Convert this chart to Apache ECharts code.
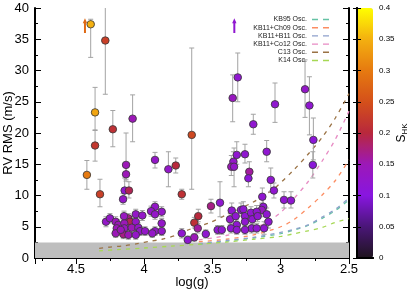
<!DOCTYPE html>
<html><head><meta charset="utf-8">
<script src="https://cdn.jsdelivr.net/npm/echarts@6/dist/echarts.min.js"></script>
<style>html,body{margin:0;padding:0;background:#fff}#c{width:415px;height:291px}</style>
</head><body><div id="c"></div>
<script>
// ---- star data: log(g), RV RMS (m/s), error-bar low/high, S_HK ----
const logg = [4.392,4.285,4.36,4.36,4.42,4.23,4.085,4.133,4.133,4.143,4.112,4.324,4.155,
  3.652,3.921,3.823,3.769,3.725,3.352,3.315,3.201,3.103,3.322,3.262,3.347,3.362,3.342,3.23,3.237,3.073,3.042,2.79,2.822,2.761,2.765,
  3.135,2.976,2.925,3.128,3.139,3.103,3.09,3.122,3.445,3.511,3.604,3.633,3.608,3.725,3.681,3.633,3.549,3.462,3.432,
  3.359,3.291,3.274,3.262,3.218,3.176,3.371,3.330,3.322,3.364,3.262,3.208,3.169,3.213,3.176,3.322,3.262,3.05,
  4.28,4.251,4.209,4.19,4.116,4.104,4.146,4.062,4.201,4.146,4.092,4.043,4.031,3.994,4.209,4.153,4.116,4.062,
  3.921,3.941,3.872,3.872,4.062,4.014,3.921,3.95,3.872,3.921,4.148,4.172];
const rms = [37.4,34.8,23.3,18.0,13.3,20.6,22.3,14.9,13.4,10.8,10.8,10.2,9.4,
  19.7,15.7,14.2,14.8,10.2,25.6,28.9,21.4,17.0,16.5,16.6,15.4,14.6,14.6,13.8,12.75,12.5,24.6,24.4,27.0,18.9,14.9,
  9.8,9.3,9.2,8.2,7.7,7.0,5.8,4.75,8.85,8.3,6.7,5.65,4.75,3.95,2.9,3.3,3.85,4.5,4.5,
  7.6,7.7,7.8,6.7,7.25,7.4,6.2,6.7,5.3,4.75,5.8,6.2,6.7,4.75,4.75,4.5,4.5,10.8,
  5.8,6.35,5.8,5.3,6.35,5.8,5.55,5.8,4.75,4.75,4.85,4.85,4.3,4.3,3.95,3.8,3.7,3.7,
  4.3,3.95,4.3,5.55,7.0,6.8,8.2,7.5,7.4,7.0,6.7,4.5];
const rmsLo = [32.1,26.2,20.4,15.5,11.0,17.8,18.6,12.6,12.3,9.8,9.6,8.2,8.6,
  11.0,14.4,11.4,13.6,9.4,21.8,25.0,19.8,15.4,15.0,15.2,14.0,13.2,11.4,12.8,11.4,10.6,21.7,19.7,22.5,15.7,12.8,
  8.6,8.0,8.0,7.2,6.6,6.0,4.8,3.8,6.6,7.2,5.8,4.8,4.0,3.2,2.3,2.7,3.2,3.8,3.8,
  6.6,6.7,6.8,5.8,6.3,6.4,5.3,5.8,4.5,4.0,5.0,5.4,5.8,4.0,4.0,3.8,3.8,9.6,
  5.0,5.6,5.0,4.5,5.6,5.0,4.8,5.0,4.0,4.0,4.1,4.1,3.6,3.6,3.3,3.1,3.0,3.0,
  3.6,3.3,3.6,4.8,6.2,6.0,7.4,6.7,6.6,6.2,5.9,3.8];
const rmsHi = [38.2,44.0,27.3,20.5,15.6,23.6,26.1,20.0,14.6,12.8,12.2,12.6,10.3,
  33.6,16.9,17.0,16.0,11.0,29.3,32.8,23.0,18.8,18.6,18.2,17.0,16.4,17.6,15.4,14.0,14.4,28.0,29.0,31.7,22.4,17.0,
  11.2,10.6,10.6,9.4,8.8,8.0,6.8,5.8,12.2,9.4,7.8,6.5,5.5,4.7,3.5,3.9,4.5,5.2,5.2,
  8.8,8.8,9.0,7.6,8.2,8.4,7.2,7.6,6.1,5.5,6.6,7.0,7.6,5.5,5.5,5.2,5.2,12.0,
  6.6,7.1,6.6,6.1,7.1,6.6,6.3,6.6,5.5,5.5,5.6,5.6,5.0,5.0,4.6,4.5,4.4,4.4,
  5.0,4.6,5.0,6.3,7.8,7.6,9.0,8.3,8.2,7.8,7.5,5.2];
const shk = [0.35,0.23,0.34,0.22,0.30,0.21,0.15,0.15,0.15,0.12,0.19,0.23,0.13,
  0.24,0.13,0.13,0.20,0.21,0.14,0.12,0.12,0.12,0.12,0.12,0.13,0.15,0.13,0.16,0.11,0.12,0.12,0.12,0.13,0.11,0.11,
  0.12,0.12,0.12,0.12,0.14,0.12,0.12,0.12,0.12,0.17,0.20,0.21,0.16,0.12,0.12,0.15,0.12,0.12,0.12,
  0.12,0.12,0.12,0.12,0.12,0.12,0.13,0.12,0.12,0.12,0.12,0.12,0.12,0.12,0.12,0.12,0.12,0.12,
  0.13,0.13,0.15,0.15,0.17,0.19,0.15,0.13,0.15,0.14,0.15,0.13,0.13,0.13,0.15,0.17,0.15,0.13,
  0.13,0.13,0.13,0.13,0.13,0.13,0.13,0.13,0.13,0.13,0.14,0.15];
const loggErr = 0.025;

// stars beyond the plotted range (drawn as upward arrows)
const arrowLogg = [4.434, 3.34];
const arrowFrom = [36.0, 36.0];
const arrowTo = [38.2, 38.2];
const arrowShk = [0.28, 0.12];

// ---- oscillation model curves ----
const kb95Logg = [3.6,3.4,3.2,3.0,2.9,2.8,2.7,2.6,2.5];
const kb95Rms  = [2.2,2.7,3.2,3.9,4.5,5.2,6.3,7.6,9.3];
const ch09Logg = [3.6,3.4,3.2,3.0,2.9,2.8,2.7,2.6,2.5];
const ch09Rms  = [2.6,3.0,3.7,5.0,6.2,8.0,10.0,12.4,15.7];
const b11Logg  = [3.6,3.4,3.2,3.0,2.9,2.8,2.7,2.6,2.5];
const b11Rms   = [2.3,2.8,3.3,4.1,4.6,5.3,6.5,7.8,9.6];
const co12Logg = [3.6,3.5,3.4,3.3,3.2,3.1,3.0,2.9,2.8,2.7,2.6,2.5];
const co12Rms  = [2.9,3.2,3.6,4.1,4.8,5.7,7.3,9.6,12.2,15.4,19.0,23.5];
const c13Logg  = [4.33,4.25,4.15,4.05,3.95,3.87,3.76,3.665,3.52,3.4,3.21,3.05,2.9,2.8,2.7,2.6,2.5];
const c13Rms   = [1.55,1.75,1.95,2.3,2.7,3.0,3.7,4.6,5.65,6.9,8.85,11.1,14.2,16.6,19.2,22.4,26.3];
const k14Logg  = [4.33,4.2,4.0,3.8,3.6,3.4,3.2,3.0,2.9,2.8,2.7,2.6,2.5];
const k14Rms   = [1.15,1.33,1.6,1.9,2.2,2.55,3.0,3.45,3.9,4.35,4.85,5.7,6.3];

const modelNames = ['KB95 Osc.','KB11+Ch09 Osc.','KB11+B11 Osc.','KB11+Co12 Osc.','C13 Osc.','K14 Osc.'];
const modelColors = ['#66c2a5','#fc8d62','#8da0cb','#e78ac3','#9a7244','#a6d854'];
const modelX = [kb95Logg,ch09Logg,b11Logg,co12Logg,c13Logg,k14Logg];
const modelY = [kb95Rms,ch09Rms,b11Rms,co12Rms,c13Rms,k14Rms];

// S_HK colour bar
const shkTicks = {min:0, max:0.4, step:0.05};
const palette = ['#1e141e','#4a1678','#8816e0','#9c18b8','#b8283c','#d4501a','#e67a10','#f4b010','#ffff00'];

const FONT = 'Liberation Sans, Arial, Helvetica, sans-serif';
const pts = logg.map((g,i)=>[g, rms[i], rmsLo[i], rmsHi[i], shk[i]]);
const arrows = arrowLogg.map((g,i)=>[g, arrowFrom[i], arrowFrom[i], arrowTo[i], arrowShk[i]]);

function errItem(params, api){
  const g=api.value(0), v=api.value(1), lo=api.value(2), hi=api.value(3);
  const a=api.coord([g,lo]), b=api.coord([g,hi]);
  const l=api.coord([g+loggErr,v]), r=api.coord([g-loggErr,v]);
  const cw=2.5, ch=1.6, st={stroke:'#a3a3a3', lineWidth:1};
  return {type:'group', children:[
    {type:'line', shape:{x1:a[0],y1:a[1],x2:b[0],y2:b[1]}, style:st},
    {type:'line', shape:{x1:a[0]-cw,y1:a[1],x2:a[0]+cw,y2:a[1]}, style:st},
    {type:'line', shape:{x1:b[0]-cw,y1:b[1],x2:b[0]+cw,y2:b[1]}, style:st},
    {type:'line', shape:{x1:l[0],y1:l[1],x2:r[0],y2:r[1]}, style:st},
    {type:'line', shape:{x1:l[0],y1:l[1]-ch,x2:l[0],y2:l[1]+ch}, style:st},
    {type:'line', shape:{x1:r[0],y1:r[1]-ch,x2:r[0],y2:r[1]+ch}, style:st}
  ]};
}
function arrowItem(params, api){
  const g=api.value(0);
  const a=api.coord([g,api.value(2)]), b=api.coord([g,api.value(3)]);
  const c=api.visual('color');
  return {type:'group', children:[
    {type:'line', shape:{x1:a[0],y1:a[1],x2:b[0],y2:b[1]+2}, style:{stroke:c,lineWidth:2}},
    {type:'polygon', shape:{points:[[b[0],b[1]-1],[b[0]-2.2,b[1]+4],[b[0]+2.2,b[1]+4]]}, style:{fill:c}}
  ]};
}

const series = [];
modelNames.forEach((n,i)=>{
  const s = {
    name:n, type:'line', xAxisIndex:0, yAxisIndex:0, smooth:0.3, symbol:'none', showSymbol:false,
    data: modelX[i].map((x,j)=>[x, modelY[i][j]]),
    lineStyle:{color:modelColors[i], width:1.3, type:[4,5]},
    itemStyle:{color:modelColors[i]}, silent:true, clip:true, z:2
  };
  if(i===0){
    s.markArea = {silent:true, itemStyle:{color:'#bebebe', opacity:1}, data:[[{yAxis:0},{yAxis:2.5}]]};
  }
  series.push(s);
});
series.push({type:'custom', xAxisIndex:0, yAxisIndex:0, renderItem:errItem, data:pts, clip:true, silent:true, z:3});
series.push({type:'custom', xAxisIndex:0, yAxisIndex:0, renderItem:arrowItem, data:arrows, clip:true, silent:true, z:4});
series.push({type:'scatter', xAxisIndex:0, yAxisIndex:0, data:pts, symbolSize:7.5, z:5,
  itemStyle:{borderColor:'#383838', borderWidth:0.8, opacity:1}, silent:true});

const tickCommon = {show:true, inside:true, length:6, lineStyle:{color:'#000', width:1}};
const minorCommon = {show:true, splitNumber:2, length:3, lineStyle:{color:'#000', width:1}};
const lineCommon = {show:true, lineStyle:{color:'#000', width:2}};

const option = {
  animation:false,
  backgroundColor:'#fff',
  textStyle:{fontFamily:FONT},
  grid:[
    {left:35, top:8, width:314, height:250, containLabel:false, outerBoundsMode:'none'},
    {left:357, top:8, width:16, height:250, containLabel:false, outerBoundsMode:'none'}
  ],
  legend:{
    data:modelNames, orient:'vertical', right:81, top:11, align:'right',
    itemWidth:17, itemHeight:1.4, itemGap:1.2, symbolKeepAspect:false,
    icon:'path://M0,0H6V1H0Z M11,0H17V1H11Z',
    textStyle:{fontSize:7, color:'#222', fontFamily:FONT, padding:[0,0,0,0]},
    selectedMode:false
  },
  visualMap:{
    type:'continuous', min:shkTicks.min, max:shkTicks.max, dimension:4, seriesIndex:[7,8],
    calculable:false, show:true, left:357, top:8, itemWidth:16, itemHeight:250, padding:0,
    text:null, showLabel:false, inRange:{color:palette}, hoverLink:false
  },
  xAxis:[
    {gridIndex:0, type:'value', inverse:true, min:2.5, max:4.8, interval:0.5, position:'bottom',
     axisLine:lineCommon, axisTick:tickCommon, minorTick:minorCommon, splitLine:{show:false},
     axisLabel:{fontSize:13, color:'#000', margin:5, fontFamily:FONT, showMaxLabel:false},
     name:'log(g)', nameLocation:'middle', nameGap:18, nameMoveOverlap:false,
     nameTextStyle:{fontSize:13, color:'#000', fontFamily:FONT}},
    {gridIndex:0, type:'value', inverse:true, min:2.5, max:4.8, interval:0.5, position:'top',
     axisLine:lineCommon, axisTick:tickCommon, minorTick:minorCommon, splitLine:{show:false}, axisLabel:{show:false}},
    {gridIndex:1, type:'value', min:0, max:1, position:'bottom', axisLine:{show:true, lineStyle:{color:'#000', width:2}},
     axisTick:{show:false}, axisLabel:{show:false}, splitLine:{show:false}, z:10},
    {gridIndex:1, type:'value', min:0, max:1, position:'top', axisLine:{show:true, lineStyle:{color:'#000', width:2}},
     axisTick:{show:false}, axisLabel:{show:false}, splitLine:{show:false}, z:10}
  ],
  yAxis:[
    {gridIndex:0, type:'value', min:0, max:40, interval:5, position:'left',
     axisLine:lineCommon, axisTick:tickCommon, minorTick:minorCommon, splitLine:{show:false},
     axisLabel:{fontSize:13, color:'#000', margin:6, fontFamily:FONT},
     name:'RV RMS (m/s)', nameLocation:'middle', nameGap:20, nameRotate:90, nameMoveOverlap:false,
     nameTextStyle:{fontSize:13, color:'#000', fontFamily:FONT}},
    {gridIndex:0, type:'value', min:0, max:40, interval:5, position:'right',
     axisLine:lineCommon, axisTick:tickCommon, minorTick:minorCommon, splitLine:{show:false}, axisLabel:{show:false}},
    {gridIndex:1, type:'value', min:shkTicks.min, max:shkTicks.max, interval:shkTicks.step, position:'right', z:10,
     axisLine:{show:true, lineStyle:{color:'#000', width:2}},
     axisTick:{show:true, inside:true, length:4, lineStyle:{color:'#000'}}, splitLine:{show:false},
     axisLabel:{fontSize:8, color:'#000', margin:6, fontFamily:FONT},
     name:'S{sub|HK}', nameLocation:'middle', nameGap:22, nameRotate:90, nameMoveOverlap:false,
     nameTextStyle:{fontSize:12, color:'#000', fontFamily:FONT, rich:{sub:{fontSize:8, verticalAlign:'bottom', padding:[6,0,0,0], fontFamily:FONT}}}},
    {gridIndex:1, type:'value', min:shkTicks.min, max:shkTicks.max, interval:shkTicks.step, position:'left', z:10,
     axisLine:{show:true, lineStyle:{color:'#000', width:2}},
     axisTick:{show:true, inside:true, length:4, lineStyle:{color:'#000'}}, splitLine:{show:false}, axisLabel:{show:false}}
  ],
  series:series
};
const chart = echarts.init(document.getElementById('c'), null, {renderer:'canvas'});
chart.setOption(option);
</script></body></html>
